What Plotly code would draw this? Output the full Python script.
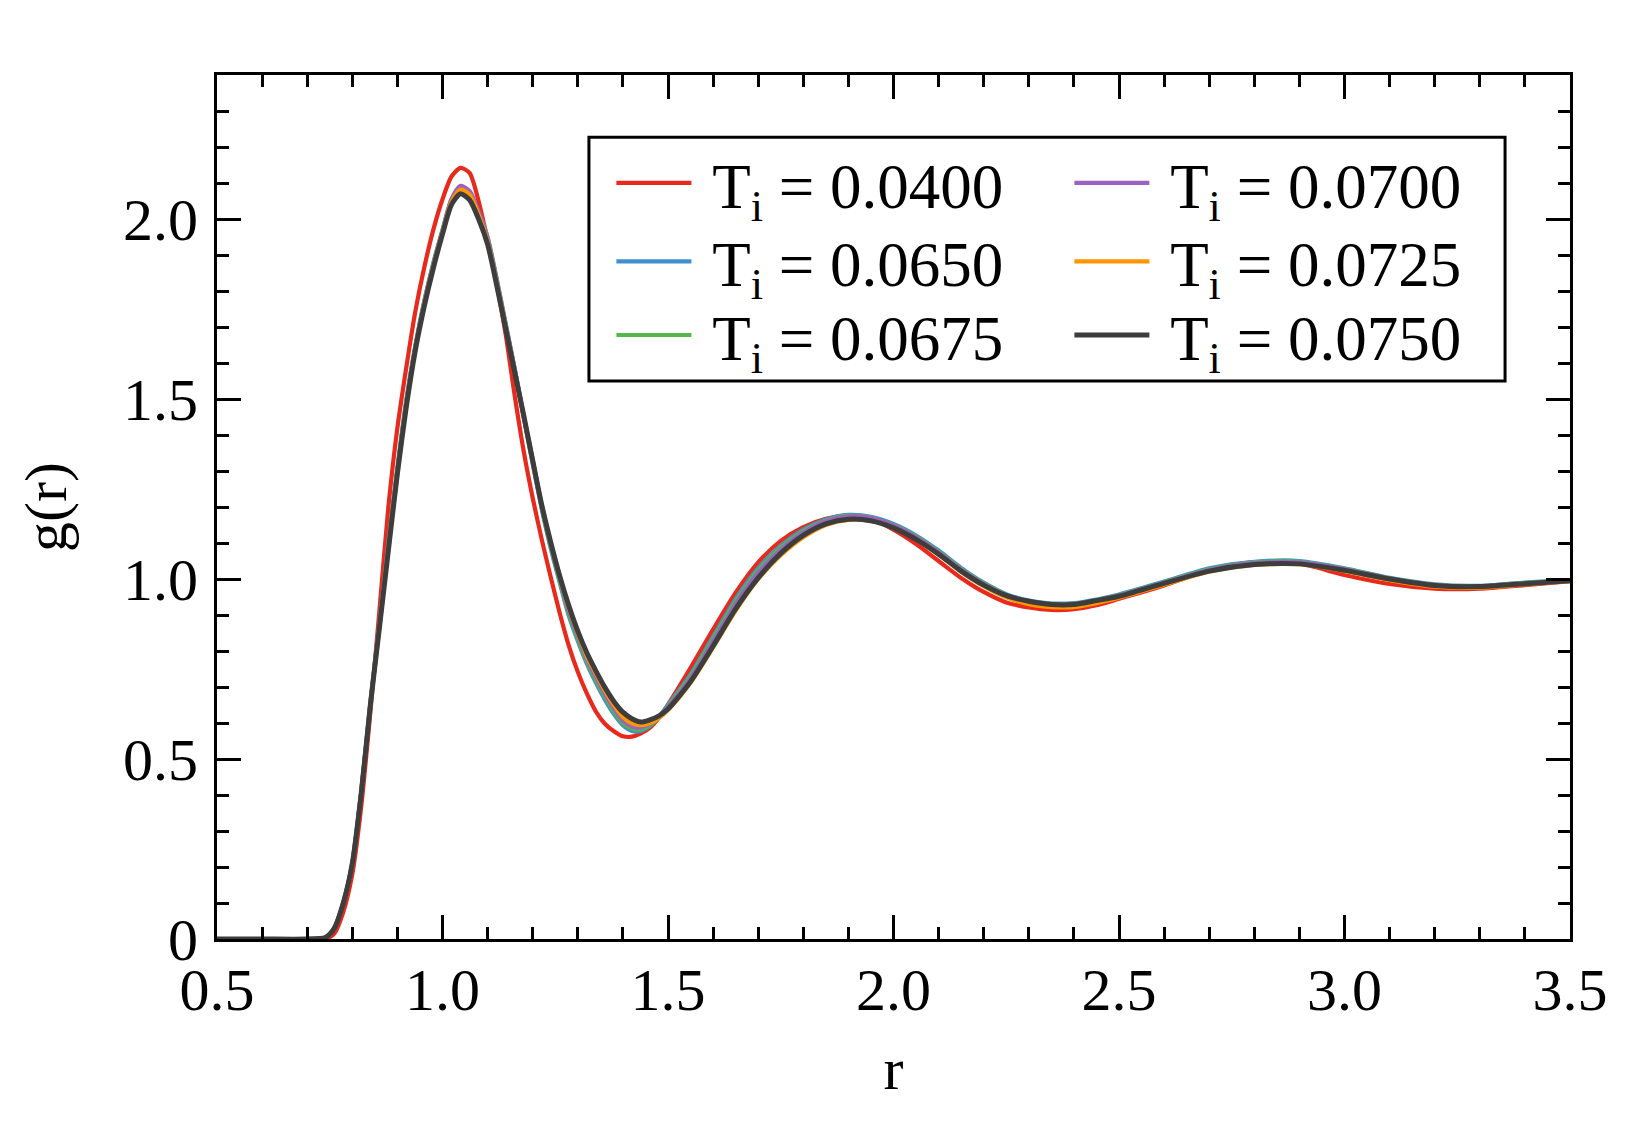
import plotly.graph_objects as go

# r grid
r = [0.50, 0.60, 0.70, 0.74, 0.76, 0.78, 0.80, 0.82, 0.84, 0.86, 0.88, 0.90, 0.92, 0.94, 0.96, 0.98,
     1.00, 1.02, 1.04, 1.06, 1.08, 1.10, 1.12, 1.14, 1.16, 1.18, 1.20, 1.22, 1.24, 1.26, 1.28, 1.30,
     1.32, 1.34, 1.36, 1.38, 1.40, 1.42, 1.44, 1.46, 1.48, 1.50, 1.55, 1.60, 1.65, 1.70, 1.75, 1.80,
     1.85, 1.90, 1.95, 2.00, 2.05, 2.10, 2.15, 2.20, 2.25, 2.30, 2.35, 2.40, 2.45, 2.50, 2.60, 2.70,
     2.80, 2.90, 3.00, 3.10, 3.20, 3.30, 3.40, 3.50]

g_0400 = [0, 0, 0, 0.000, 0.015, 0.075, 0.18, 0.37, 0.63, 0.91, 1.20, 1.42, 1.59, 1.745, 1.868, 1.972,
          2.055, 2.118, 2.142, 2.128, 2.05, 1.94, 1.82, 1.68, 1.51, 1.355, 1.225, 1.11, 1.005, 0.905, 0.815, 0.742,
          0.682, 0.632, 0.598, 0.577, 0.563, 0.562, 0.571, 0.587, 0.615, 0.651, 0.753, 0.86, 0.962, 1.046, 1.106, 1.144,
          1.167, 1.176, 1.168, 1.137, 1.097, 1.05, 1.003, 0.964, 0.935, 0.921, 0.914, 0.916, 0.927, 0.945, 0.982, 1.026,
          1.047, 1.043, 1.011, 0.986, 0.973, 0.973, 0.983, 0.994]

g_0650 = [0, 0, 0, 0.004, 0.03, 0.10, 0.21, 0.41, 0.655, 0.875, 1.10, 1.31, 1.50, 1.65, 1.775, 1.88,
          1.97, 2.055, 2.088, 2.075, 2.02, 1.95, 1.835, 1.71, 1.585, 1.45, 1.32, 1.195, 1.085, 0.99, 0.898, 0.828,
          0.765, 0.712, 0.665, 0.625, 0.594, 0.578, 0.578, 0.592, 0.617, 0.65, 0.735, 0.84, 0.945, 1.03, 1.092, 1.137,
          1.165, 1.178, 1.173, 1.153, 1.121, 1.079, 1.031, 0.99, 0.958, 0.94, 0.932, 0.933, 0.943, 0.957, 0.993, 1.03,
          1.048, 1.05, 1.03, 1.003, 0.985, 0.981, 0.99, 0.996]

g_0675 = [0, 0, 0, 0.004, 0.03, 0.10, 0.21, 0.41, 0.653, 0.87, 1.095, 1.305, 1.495, 1.647, 1.772, 1.877,
          1.967, 2.05, 2.085, 2.072, 2.016, 1.946, 1.832, 1.707, 1.583, 1.452, 1.325, 1.198, 1.09, 0.995, 0.905, 0.835,
          0.772, 0.72, 0.672, 0.632, 0.6, 0.584, 0.582, 0.594, 0.616, 0.647, 0.73, 0.834, 0.938, 1.024, 1.087, 1.133,
          1.162, 1.176, 1.171, 1.15, 1.118, 1.076, 1.028, 0.988, 0.956, 0.938, 0.93, 0.931, 0.941, 0.955, 0.991, 1.027,
          1.046, 1.048, 1.028, 1.002, 0.984, 0.98, 0.989, 0.996]

g_0700 = [0, 0, 0, 0.004, 0.03, 0.10, 0.21, 0.41, 0.652, 0.868, 1.09, 1.30, 1.49, 1.645, 1.77, 1.875,
          1.965, 2.055, 2.092, 2.078, 2.02, 1.945, 1.83, 1.705, 1.582, 1.455, 1.33, 1.203, 1.095, 1.002, 0.912, 0.843,
          0.779, 0.728, 0.68, 0.64, 0.607, 0.59, 0.588, 0.598, 0.616, 0.644, 0.724, 0.826, 0.93, 1.017, 1.081, 1.129,
          1.16, 1.174, 1.17, 1.149, 1.116, 1.074, 1.026, 0.986, 0.955, 0.937, 0.929, 0.93, 0.94, 0.954, 0.99, 1.025,
          1.044, 1.046, 1.027, 1.001, 0.983, 0.979, 0.988, 0.995]

g_0725 = [0, 0, 0, 0.004, 0.03, 0.10, 0.21, 0.41, 0.65, 0.865, 1.085, 1.295, 1.485, 1.64, 1.765, 1.87,
          1.962, 2.048, 2.082, 2.068, 2.012, 1.938, 1.822, 1.698, 1.578, 1.452, 1.33, 1.205, 1.1, 1.008, 0.92, 0.85,
          0.786, 0.737, 0.69, 0.65, 0.617, 0.599, 0.594, 0.6, 0.614, 0.636, 0.712, 0.81, 0.912, 1.0, 1.066, 1.116,
          1.15, 1.164, 1.161, 1.142, 1.11, 1.068, 1.02, 0.98, 0.949, 0.93, 0.922, 0.922, 0.933, 0.948, 0.984, 1.02,
          1.039, 1.041, 1.022, 0.997, 0.979, 0.976, 0.985, 0.994]

g_0750 = [0, 0, 0, 0.004, 0.03, 0.10, 0.21, 0.407, 0.649, 0.863, 1.08, 1.293, 1.481, 1.637, 1.76, 1.865,
          1.958, 2.04, 2.07, 2.053, 2.0, 1.93, 1.817, 1.696, 1.575, 1.455, 1.329, 1.206, 1.102, 1.008, 0.926, 0.855,
          0.795, 0.745, 0.699, 0.66, 0.63, 0.612, 0.603, 0.609, 0.62, 0.639, 0.715, 0.814, 0.917, 1.003, 1.071, 1.121,
          1.153, 1.166, 1.162, 1.142, 1.11, 1.069, 1.022, 0.983, 0.954, 0.938, 0.929, 0.929, 0.94, 0.952, 0.988, 1.022,
          1.04, 1.042, 1.024, 1.0, 0.982, 0.979, 0.987, 0.995]

series_names = ["T<sub>i</sub> = 0.0400", "T<sub>i</sub> = 0.0650", "T<sub>i</sub> = 0.0675",
                "T<sub>i</sub> = 0.0700", "T<sub>i</sub> = 0.0725", "T<sub>i</sub> = 0.0750"]
series_values = [g_0400, g_0650, g_0675, g_0700, g_0725, g_0750]
colors = ["#e8291c", "#3f8fcc", "#52b84a", "#9c62bf", "#ff9500", "#3d3d3d"]
widths = [4.2, 4.2, 4.2, 4.2, 4.2, 5.0]
legend_ids = ["legend", "legend2", "legend3", "legend4", "legend5", "legend6"]

x_tickvals = [0.5, 1.0, 1.5, 2.0, 2.5, 3.0, 3.5]
x_ticktext = ["0.5", "1.0", "1.5", "2.0", "2.5", "3.0", "3.5"]
y_tickvals = [0, 0.5, 1.0, 1.5, 2.0]
y_ticktext = ["0", "0.5", "1.0", "1.5", "2.0"]

FONT = "Liberation Serif, Times New Roman, serif"
FS = 60

fig = go.Figure()
for name, vals, col, w, lg in zip(series_names, series_values, colors, widths, legend_ids):
    fig.add_trace(go.Scatter(x=r, y=vals, mode="lines", name="\u00a0" + name,
                             line=dict(color=col, width=w, shape="spline", smoothing=0.7),
                             legend=lg))

axis_common = dict(
    showline=True, linecolor="black", linewidth=3, mirror="allticks",
    ticks="inside", ticklen=24, tickwidth=2.5, tickcolor="black",
    showgrid=False, zeroline=False,
    tickfont=dict(family=FONT, size=FS, color="black"),
)

fig.update_xaxes(range=[0.5, 3.5], tickvals=x_tickvals, ticktext=x_ticktext,
                 minor=dict(dtick=0.1, ticks="inside", ticklen=12, tickwidth=2.5, tickcolor="black", showgrid=False),
                 title=dict(text="r", font=dict(family=FONT, size=FS, color="black"), standoff=25),
                 ticklabelstandoff=-4,
                 **axis_common)
fig.update_yaxes(range=[0, 2.4], tickvals=y_tickvals, ticktext=y_ticktext,
                 minor=dict(dtick=0.1, ticks="inside", ticklen=12, tickwidth=2.5, tickcolor="black", showgrid=False),
                 title=dict(text="g(r)", font=dict(family=FONT, size=FS, color="black"), standoff=38),
                 ticklabelstandoff=4,
                 **axis_common)

legend_common = dict(
    font=dict(family=FONT, size=63, color="black"),
    bgcolor="rgba(0,0,0,0)", borderwidth=0, tracegroupgap=0,
    orientation="v", xanchor="left", yanchor="middle", itemwidth=75,
)

col_x = [0.2915, 0.630]
row_y = [0.875, 0.7843, 0.699]

fig.update_layout(
    width=1650, height=1125,
    margin=dict(l=217, r=80, t=75, b=186),
    paper_bgcolor="white", plot_bgcolor="white",
    font=dict(family=FONT, color="black"),
    showlegend=True,
    legend=dict(x=col_x[0], y=row_y[0], **legend_common),
    legend2=dict(x=col_x[0], y=row_y[1], **legend_common),
    legend3=dict(x=col_x[0], y=row_y[2], **legend_common),
    legend4=dict(x=col_x[1], y=row_y[0], **legend_common),
    legend5=dict(x=col_x[1], y=row_y[1], **legend_common),
    legend6=dict(x=col_x[1], y=row_y[2], **legend_common),
    shapes=[dict(type="rect", xref="paper", yref="paper",
                 x0=0.2749, x1=0.952, y0=0.6458, y1=0.928,
                 line=dict(color="black", width=3), fillcolor="rgba(0,0,0,0)", layer="above")],
)

fig.write_html("out.html")
